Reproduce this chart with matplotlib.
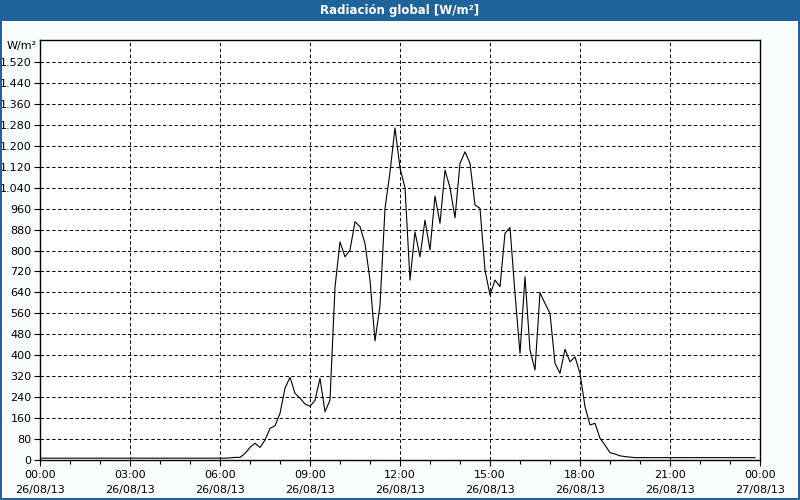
import numpy as np
import pandas as pd
import matplotlib
matplotlib.use('Agg')
import matplotlib.pyplot as plt
import matplotlib.dates as mdates
from matplotlib.patches import Rectangle
from matplotlib.ticker import FuncFormatter, MultipleLocator

# 10-minute readings for 26/08/13, W/m2
night_am = [7] * 38
morning = [8, 10, 10, 25, 48, 64, 48, 76, 121, 131, 178, 274, 316, 255, 236, 214,
           205, 228, 312, 184, 229, 660, 833, 776, 802, 910, 891, 827, 687, 455,
           590, 960, 1100, 1268, 1115, 1040]
afternoon = [687, 871, 776, 916, 802, 1008, 904, 1107, 1040, 925, 1133, 1177, 1133,
             974, 961, 725, 630, 687, 662, 866, 888, 636, 407, 700, 420, 344, 639,
             598, 560, 369, 331, 423, 375, 394, 331, 204, 134, 140, 83, 57, 28, 23,
             16, 13, 11]
night_pm = [9] * 25
radiation = night_am + morning + afternoon + night_pm

times = pd.date_range('2013-08-26 00:00', periods=len(radiation), freq='10min')
x_start = pd.Timestamp('2013-08-26 00:00')
x_end = pd.Timestamp('2013-08-27 00:00')

title = 'Radiación global [W/m²]'
unit = 'W/m²'
y_ticks = list(range(0, 1521, 80))

bar_blue = '#1f639b'
bg = '#fafdfd'

fig = plt.figure(figsize=(8, 5), dpi=100, facecolor=bg)
ax = fig.add_axes([0.05, 0.08, 0.90, 0.84])
ax.set_facecolor('white')

ax.plot(times, radiation, color='black', linewidth=0.8)

ax.set_xlim(x_start, x_end)
ax.set_ylim(0, 1604)
ax.set_yticks(y_ticks)
ax.yaxis.set_major_formatter(FuncFormatter(lambda v, p: f'{int(v):,}'.replace(',', '.')))

ax.xaxis.set_major_locator(mdates.HourLocator(byhour=range(0, 24, 3)))
ax.xaxis.set_minor_locator(mdates.HourLocator())
ax.xaxis.set_major_formatter(mdates.DateFormatter('%H:%M\n%d/%m/%y'))

ax.grid(True, which='major', color='black', linestyle=(0, (3.5, 2.5)), linewidth=0.7)
ax.tick_params(axis='both', which='major', direction='out', length=4, width=0.8,
               labelsize=8, colors='black', pad=2)
ax.tick_params(axis='x', which='minor', direction='out', length=3, width=0.8)
ax.tick_params(axis='x', which='major', pad=3)
for lbl in ax.get_xticklabels():
    lbl.set_linespacing(1.6)
for s in ax.spines.values():
    s.set_linewidth(1.0)
    s.set_color('black')

fig.text(37 / 800, 1 - 46 / 500, unit, ha='right', va='center', fontsize=8)

# title bar and frame
fig.patches.append(Rectangle((0, 1 - 21 / 500), 1, 21 / 500, transform=fig.transFigure,
                             facecolor=bar_blue, edgecolor='none', zorder=0))
fig.patches.append(Rectangle((0, 0), 2 / 800, 1, transform=fig.transFigure,
                             facecolor=bar_blue, edgecolor='none'))
fig.patches.append(Rectangle((1 - 2 / 800, 0), 2 / 800, 1, transform=fig.transFigure,
                             facecolor=bar_blue, edgecolor='none'))
fig.patches.append(Rectangle((0, 0), 1, 2 / 500, transform=fig.transFigure,
                             facecolor=bar_blue, edgecolor='none'))
fig.text(0.5, 1 - 10.5 / 500, title, ha='center', va='center', color='white',
         fontsize=8.5, fontweight='bold')

fig.savefig('out.png', dpi=100, facecolor=bg)
